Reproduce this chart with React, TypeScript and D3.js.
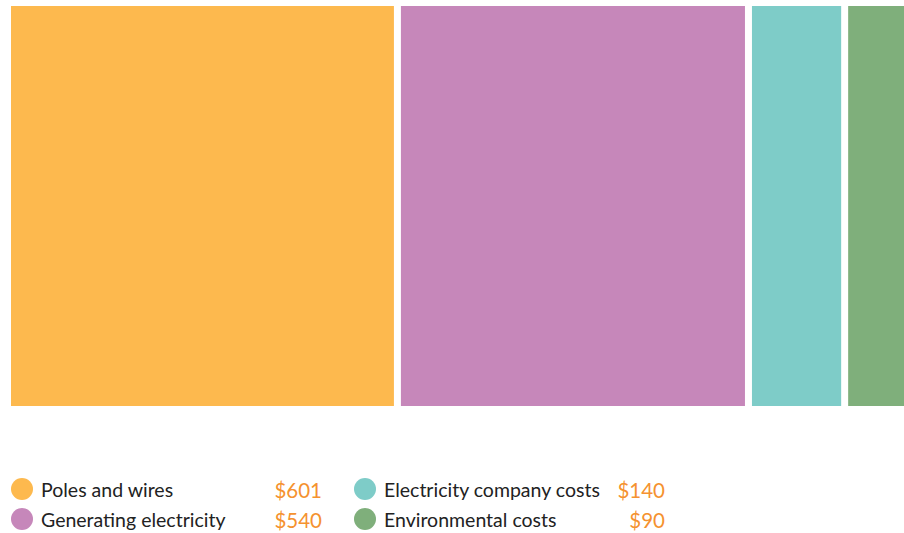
import * as d3 from "d3";

const categories = ["Poles and wires", "Generating electricity", "Electricity company costs", "Environmental costs"];
const values = [601, 540, 140, 90];
const colors = ["#FDB94E", "#C687BA", "#7ECCC8", "#7FAF7B"];

const width = 904;
const height = 533;
const gap = 7;
const chart = { left: 11, right: 905.5, top: 6, bottom: 406 };

export default function App() {
  const total = d3.sum(values);
  const starts = d3.cumsum([0, ...values]);
  const x = d3.scaleLinear()
    .domain([0, total])
    .range([0, chart.right - chart.left - gap * (values.length - 1)]);

  const legendCols = [
    { cx: 22, textX: 41, valueX: 322 },
    { cx: 365, textX: 384, valueX: 665 },
  ];
  const rowY = [489, 519];

  return (
    <svg
      width={width}
      height={height}
      style={{ position: "absolute", left: 0, top: 0, fontFamily: "Lato, 'Open Sans', sans-serif" }}
    >
      {values.map((v, i) => (
        <rect
          key={categories[i]}
          x={chart.left + x(starts[i]) + i * gap}
          y={chart.top}
          width={x(v)}
          height={chart.bottom - chart.top}
          fill={colors[i]}
        />
      ))}
      {categories.map((c, i) => {
        const col = legendCols[Math.floor(i / 2)];
        const y = rowY[i % 2];
        return (
          <g key={c}>
            <circle cx={col.cx} cy={y} r={11} fill={colors[i]} />
            <text x={col.textX} y={y + 1.5} dy="0.35em" fontSize={19.5} fill="#222">{c}</text>
            <text x={col.valueX} y={y + 1.5} dy="0.35em" fontSize={20.5} fill="#F5922F" textAnchor="end">
              {"$" + values[i]}
            </text>
          </g>
        );
      })}
    </svg>
  );
}
